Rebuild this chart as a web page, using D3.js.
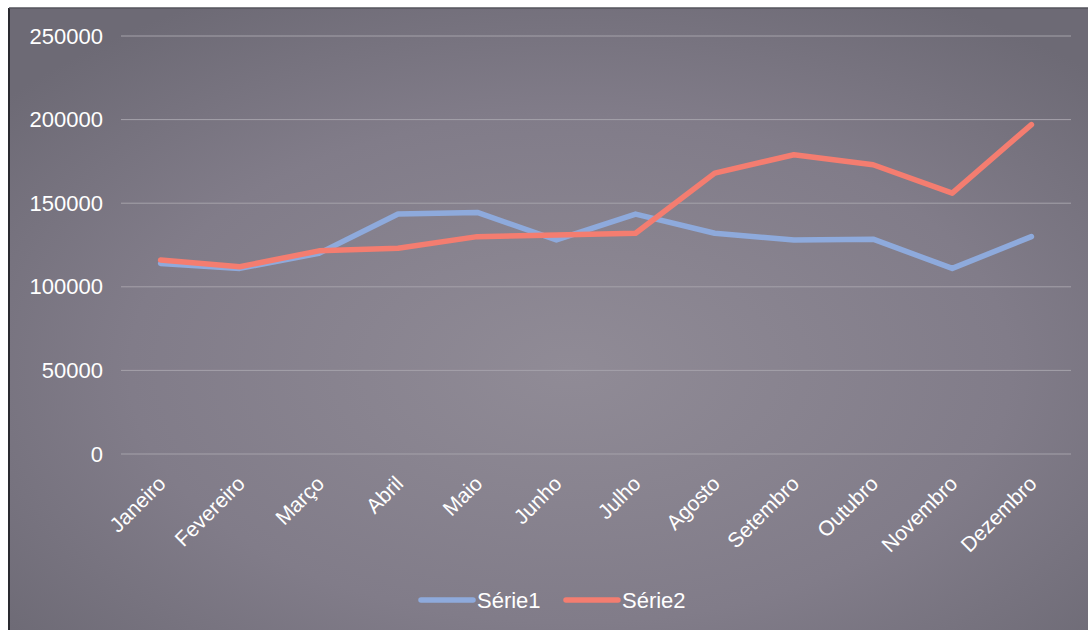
<!DOCTYPE html>
<html>
<head>
<meta charset="utf-8">
<script src="https://cdn.jsdelivr.net/npm/d3@7"></script>
<style>
  html, body { margin: 0; padding: 0; background: #ffffff; }
  svg { display: block; }
  text { font-family: "Liberation Sans", Arial, sans-serif; fill: #ffffff; }
</style>
</head>
<body>
<svg id="chart" width="1088" height="630"></svg>
<script>
// Monthly values for the two series
const months = ["Janeiro", "Fevereiro", "Março", "Abril", "Maio", "Junho",
                "Julho", "Agosto", "Setembro", "Outubro", "Novembro", "Dezembro"];
const serie1 = [114000, 111000, 120000, 143500, 144500, 128000,
                143500, 132000, 128000, 128500, 111000, 130000];
const serie2 = [116000, 112000, 121500, 123000, 130000, 131000,
                132000, 168000, 179000, 173000, 156000, 197000];
const seriesNames = ["Série1", "Série2"];
const seriesColors = ["#8eaadc", "#f47d70"];
const yTicks = [0, 50000, 100000, 150000, 200000, 250000];

const W = 1088, H = 630;
const svg = d3.select("#chart");

// Background panel with soft radial shading
const defs = svg.append("defs");
const grad = defs.append("radialGradient")
  .attr("id", "bg").attr("cx", "52%").attr("cy", "58%").attr("r", "68%");
grad.append("stop").attr("offset", "0%").attr("stop-color", "#908b96");
grad.append("stop").attr("offset", "60%").attr("stop-color", "#817c89");
grad.append("stop").attr("offset", "100%").attr("stop-color", "#6d6a75");

svg.append("rect").attr("x", 9).attr("y", 8).attr("width", W - 9).attr("height", H - 8)
  .attr("fill", "url(#bg)");
svg.append("line").attr("x1", 9).attr("x2", 9).attr("y1", 8).attr("y2", H)
  .attr("stroke", "#2a2a30").attr("stroke-width", 2);
svg.append("line").attr("x1", 9).attr("x2", W).attr("y1", 8).attr("y2", 8)
  .attr("stroke", "#55545c").attr("stroke-width", 1.5);

const plot = { left: 121, right: 1071, top: 36, bottom: 454 };

const x = d3.scalePoint().domain(months)
  .range([plot.left, plot.right]).padding(0.5);
const y = d3.scaleLinear().domain([0, 250000]).range([plot.bottom, plot.top]);

// Horizontal gridlines
svg.append("g").selectAll("line").data(yTicks).join("line")
  .attr("x1", plot.left).attr("x2", plot.right)
  .attr("y1", d => y(d)).attr("y2", d => y(d))
  .attr("stroke", "#a5a2aa").attr("stroke-width", 1);

// Y axis labels
const yAxis = d3.axisLeft(y).tickValues(yTicks).tickSize(0).tickPadding(18)
  .tickFormat(d3.format("d"));
const gy = svg.append("g").attr("transform", `translate(${plot.left},0)`).call(yAxis);
gy.select(".domain").remove();
gy.selectAll("text").attr("font-size", 22).attr("fill", "#ffffff")
  .style("font-family", "'Liberation Sans', Arial, sans-serif");

// X axis labels, rotated
const xAxis = d3.axisBottom(x).tickSize(0).tickPadding(0);
const gx = svg.append("g").attr("transform", `translate(0,${plot.bottom})`).call(xAxis);
gx.select(".domain").remove();
gx.selectAll("text")
  .attr("font-size", 21).attr("fill", "#ffffff")
  .style("font-family", "'Liberation Sans', Arial, sans-serif")
  .attr("text-anchor", "end")
  .attr("dy", null).attr("y", 0)
  .attr("transform", "translate(6,31) rotate(-45)");

// Lines
const line = d3.line().x((d, i) => x(months[i])).y(d => y(d));
[serie1, serie2].forEach((s, k) => {
  svg.append("path").datum(s)
    .attr("d", line)
    .attr("fill", "none")
    .attr("stroke", seriesColors[k])
    .attr("stroke-width", 5.5)
    .attr("stroke-linejoin", "round")
    .attr("stroke-linecap", "round");
});

// Legend
const legend = svg.append("g").attr("transform", "translate(0,600)");
const legendX = [421, 566];
seriesNames.forEach((name, k) => {
  legend.append("line")
    .attr("x1", legendX[k]).attr("x2", legendX[k] + 52)
    .attr("y1", 0).attr("y2", 0)
    .attr("stroke", seriesColors[k]).attr("stroke-width", 5.5)
    .attr("stroke-linecap", "round");
  legend.append("text")
    .attr("x", legendX[k] + 56).attr("y", 8)
    .attr("font-size", 22)
    .text(name);
});
</script>
</body>
</html>
